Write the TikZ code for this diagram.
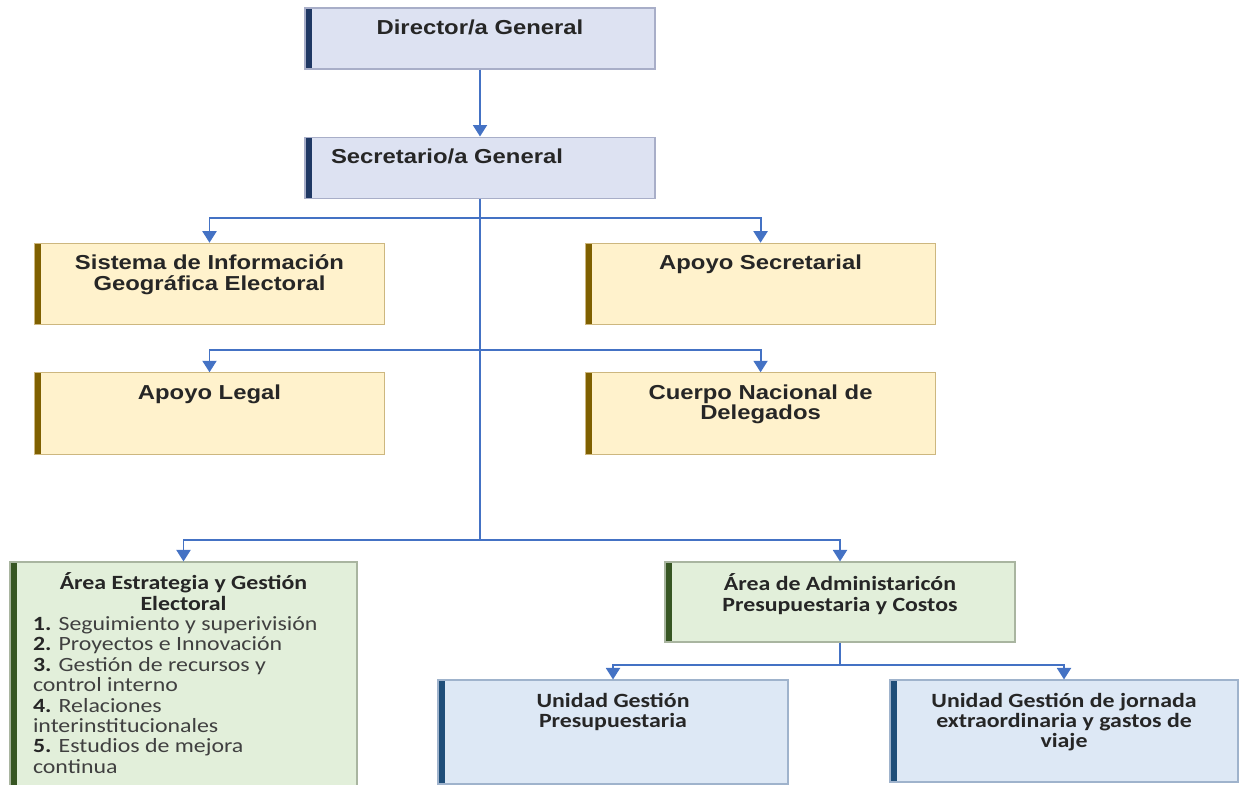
\documentclass[tikz,border=0pt]{standalone}
\usepackage{fontspec}
\newfontfamily\arialf{Liberation Sans}[FakeStretch=1.18]
\newfontfamily\calibf{Carlito}[FakeStretch=1.18]
\usetikzlibrary{positioning,arrows.meta}

\definecolor{lavfill}{HTML}{DDE2F2}
\definecolor{lavline}{HTML}{A8AEC8}
\definecolor{navybar}{HTML}{1F3864}
\definecolor{goldfill}{HTML}{FFF2CC}
\definecolor{goldline}{HTML}{CDB77F}
\definecolor{goldbar}{HTML}{7F6000}
\definecolor{grnfill}{HTML}{E2EFDA}
\definecolor{grnline}{HTML}{A9B5A0}
\definecolor{grnbar}{HTML}{375623}
\definecolor{skyfill}{HTML}{DDE8F5}
\definecolor{skyline}{HTML}{9FB3CC}
\definecolor{skybar}{HTML}{1F4E79}
\definecolor{linkblue}{HTML}{4472C4}
\definecolor{inkgray}{HTML}{262626}
\definecolor{listgray}{HTML}{404040}

\begin{document}
\begin{tikzpicture}[
        bar/.style={path picture={
            \fill[#1] (path picture bounding box.south west)
                rectangle ([xshift=0.13cm]path picture bounding box.north west);}},
        orgbox/.style={
            rectangle, line width=0.6pt,
            minimum width=7cm, inner sep=0pt
        },
        dirbox/.style={orgbox, draw=lavline, fill=lavfill, bar=navybar, minimum height=1.22cm},
        goldbox/.style={orgbox, draw=goldline, fill=goldfill, bar=goldbar, minimum height=1.63cm},
        grnbox/.style={orgbox, draw=grnline, fill=grnfill, bar=grnbar},
        skybox/.style={orgbox, draw=skyline, fill=skyfill, bar=skybar},
        arialtxt/.style={anchor=north, inner sep=0pt, align=center, text=inkgray,
            font=\arialf\bfseries\fontsize{11.5}{11.5}\selectfont},
        calibtxt/.style={anchor=north, inner sep=0pt, align=center, text=inkgray,
            font=\calibf\bfseries\fontsize{11.5}{11.6}\selectfont},
        link/.style={line width=1.1pt, draw=linkblue},
        arrow/.style={link, -{Triangle[width=0.28cm, length=0.23cm]}},
        node distance=0.24cm
    ]

    \useasboundingbox (0,0) rectangle (24.78,-15.68);

    % top of the chart
    \node[dirbox] (dir) at (9.6,-0.77) {};
    \node[arialtxt, below=of dir.north] (dir-t) {Director/a General};

    \node[dirbox, below=1.34cm of dir] (sec) {};
    \node[arialtxt, below=of sec.north, xshift=-0.66cm] (sec-t) {Secretario/a General};

    % staff units
    \node[goldbox] (sig) at (4.19,-5.68) {};
    \node[arialtxt, below=of sig.north] (sig-t) {Sistema de Información\\Geográfica Electoral};

    \node[goldbox, right=4cm of sig] (apsec) {};
    \node[arialtxt, below=of apsec.north] (apsec-t) {Apoyo Secretarial};

    \node[goldbox, below=0.94cm of sig] (aplegal) {};
    \node[arialtxt, below=of aplegal.north] (aplegal-t) {Apoyo Legal};

    \node[goldbox, right=4cm of aplegal] (cuerpo) {};
    \node[arialtxt, below=of cuerpo.north] (cuerpo-t) {Cuerpo Nacional de\\Delegados};

    % areas
    \node[grnbox, minimum width=6.94cm, minimum height=4.56cm] (aeg) at (3.67,-13.52) {};
    \node[calibtxt, align=left, below=0.22cm of aeg.north] (aeg-t)
        {\makebox[6.02cm]{Área Estrategia y Gestión}\\
         \makebox[6.02cm]{Electoral}\\
         1. {\mdseries\color{listgray}Seguimiento y superivisión}\\
         2. {\mdseries\color{listgray}Proyectos e Innovación}\\
         3. {\mdseries\color{listgray}Gestión de recursos y}\\
         {\mdseries\color{listgray}control interno}\\
         4. {\mdseries\color{listgray}Relaciones}\\
         {\mdseries\color{listgray}interinstitucionales}\\
         5. {\mdseries\color{listgray}Estudios de mejora}\\
         {\mdseries\color{listgray}continua}};

    \node[grnbox, minimum height=1.6cm] (aapc) at (16.8,-12.04) {};
    \node[calibtxt, below=of aapc.north] (aapc-t) {Área de Administaricón\\Presupuestaria y Costos};

    % units
    \node[skybox, minimum height=2.08cm] (ugp) at (12.26,-14.64) {};
    \node[calibtxt, below=0.26cm of ugp.north] (ugp-t) {Unidad Gestión\\Presupuestaria};

    \node[skybox, minimum width=6.96cm, minimum height=2.04cm] (ugj) at (21.28,-14.62) {};
    \node[calibtxt, below=0.26cm of ugj.north] (ugj-t) {Unidad Gestión de jornada\\extraordinaria y gastos de\\viaje};

    % junctions
    \coordinate (j1) at (9.6,-4.36);
    \coordinate (j2) at (9.6,-7.0);
    \coordinate (j3) at (9.6,-10.8);
    \coordinate (j4) at (16.8,-13.3);

    \draw[arrow] (dir) -- (sec);
    \draw[link] (sec) -- (j3);
    \draw[arrow] (j1) -| (sig);
    \draw[arrow] (j1) -| (apsec);
    \draw[arrow] (j2) -| (aplegal);
    \draw[arrow] (j2) -| (cuerpo);
    \draw[arrow] (j3) -| (aeg);
    \draw[arrow] (j3) -| (aapc);
    \draw[link] (aapc) -- (j4);
    \draw[arrow] (j4) -| (ugp);
    \draw[arrow] (j4) -| (ugj);

\end{tikzpicture}
\end{document}
